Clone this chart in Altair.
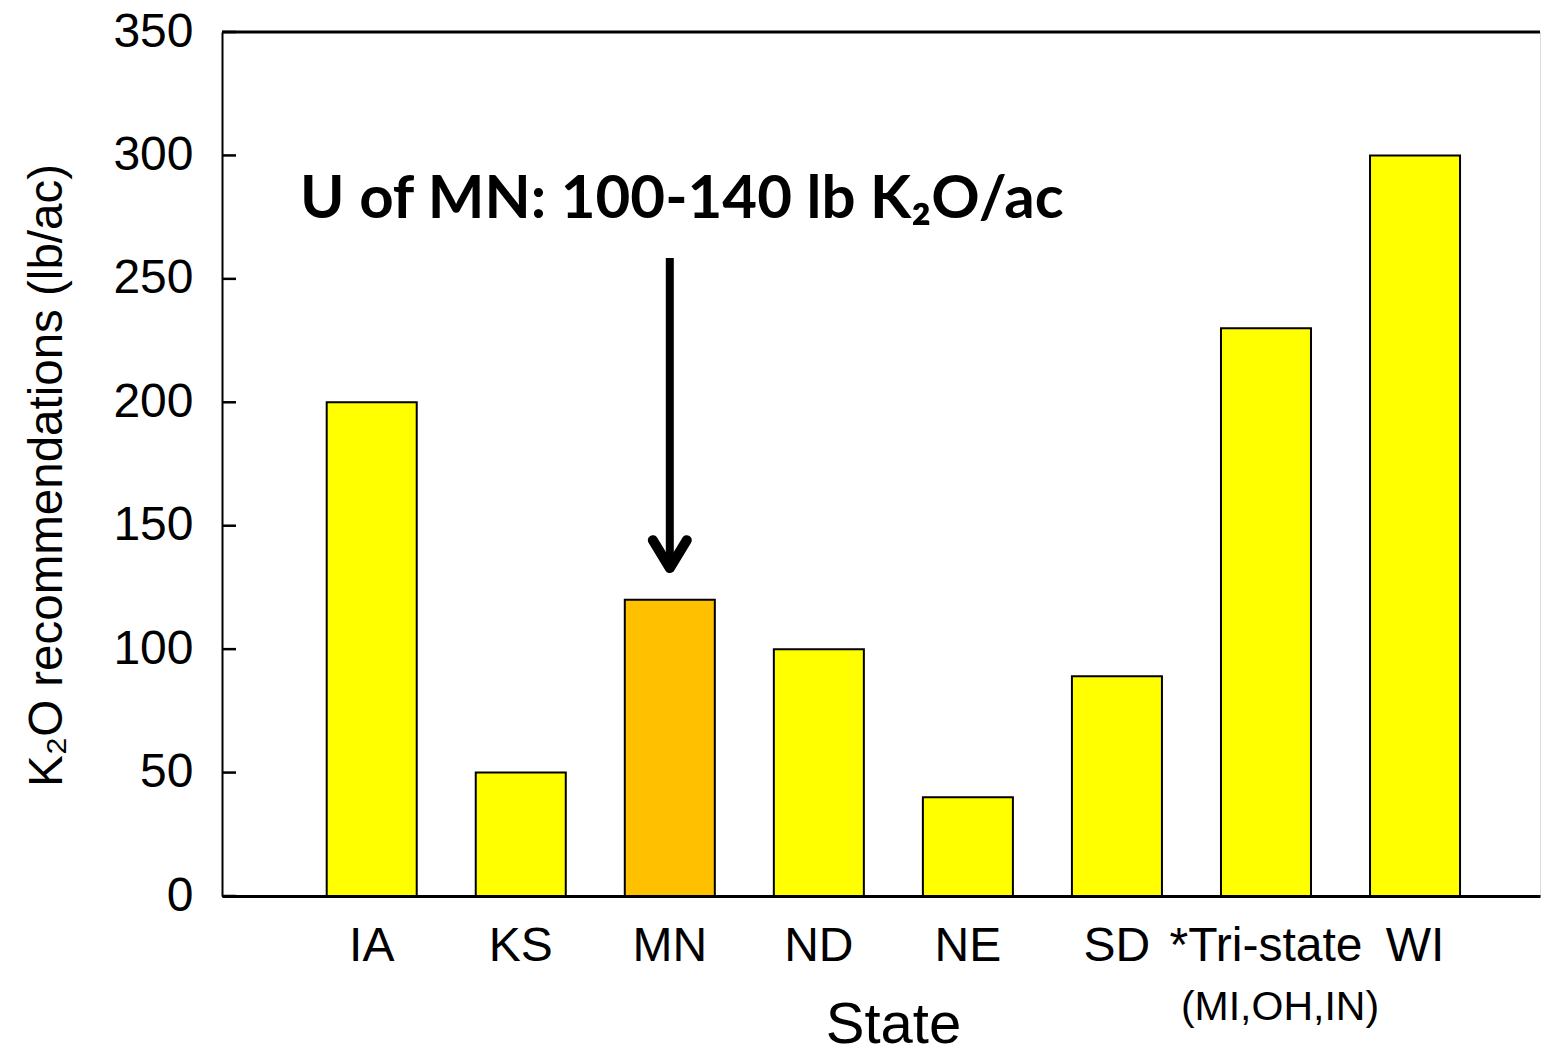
import altair as alt
import pandas as pd

# ---- data ----
states = ["IA", "KS", "MN", "ND", "NE", "SD", "*Tri-state", "WI"]
k2o = [200, 50, 120, 100, 40, 89, 230, 300]
bar_colors = ["#FFFF00", "#FFFF00", "#FFC000", "#FFFF00", "#FFFF00", "#FFFF00", "#FFFF00", "#FFFF00"]
sublabels = ["", "", "", "", "", "", "(MI,OH,IN)", ""]
y_ticks = [0, 50, 100, 150, 200, 250, 300, 350]
annotation = "U of MN: 100-140 lb K\u2082O/ac"
y_title = "K\u2082O recommendations (lb/ac)"
x_title = "State"

# annotation arrow (data units)
arrow_state = "MN"
arrow_top = 258.4
arrow_bottom = 133.6
arrow_head = 138.5

W, H = 1318, 864
FONT = "Liberation Sans"

df = pd.DataFrame({"state": states, "k2o": k2o, "color": bar_colors, "sub": sublabels})

xscale = alt.Scale(domain=states, paddingInner=0.396, paddingOuter=0.6195, align=0.567, round=False)
yscale = alt.Scale(domain=[0, 350], nice=False, zero=True)

base = alt.Chart(df)

bars = base.mark_bar(stroke="black", strokeWidth=2).encode(
    x=alt.X("state:N", scale=xscale, sort=None,
            axis=alt.Axis(title=x_title, titleFontSize=58, titleFont=FONT, titleFontWeight="normal",
                          titleColor="black", titleX=671, titleY=146, titleBaseline="alphabetic",
                          titleAlign="center", titleAnchor="start",
                          labelFontSize=48, labelFont=FONT, labelColor="black", labelAngle=0,
                          labelBaseline="alphabetic", labelPadding=64, labelLimit=0,
                          ticks=False, tickSize=0,
                          domainColor="black", domainWidth=3, grid=False)),
    y=alt.Y("k2o:Q", scale=yscale,
            axis=alt.Axis(title=y_title, titleFontSize=47.5, titleFont=FONT, titleFontWeight="normal",
                          titleColor="black", titleAngle=270, titleX=-161, titleY=443,
                          titleBaseline="alphabetic", titleAlign="center", titleAnchor="start",
                          values=y_ticks, labelFontSize=48, labelFont=FONT, labelColor="black",
                          labelPadding=29, ticks=False, tickSize=0,
                          domainColor="black", domainWidth=2, grid=False)),
    fill=alt.Color("color:N", scale=None),
)

tick_df = pd.DataFrame({"v": y_ticks})
inner_ticks = alt.Chart(tick_df).mark_rule(color="black", strokeWidth=2.5).encode(
    y=alt.Y("v:Q", scale=yscale), x=alt.value(0), x2=alt.value(14)
)

top_line = alt.Chart(pd.DataFrame({"v": [350]})).mark_rule(color="black", strokeWidth=3).encode(
    y=alt.Y("v:Q", scale=yscale), x=alt.value(0), x2=alt.value(W)
)

sub_text = base.transform_filter("datum.sub != ''").mark_text(
    fontSize=41, font=FONT, color="black", baseline="alphabetic", dx=14
).encode(x=alt.X("state:N", scale=xscale), y=alt.value(988), text="sub:N")

arrow_df = pd.DataFrame({"state": [arrow_state], "top": [arrow_top], "bottom": [arrow_bottom], "head": [arrow_head]})
shaft = alt.Chart(arrow_df).mark_rule(color="black", strokeWidth=8).encode(
    x=alt.X("state:N", scale=xscale),
    y=alt.Y("top:Q", scale=yscale),
    y2="bottom:Q",
)
head = alt.Chart(arrow_df).mark_point(
    shape="M -1 -0.82 L 0 0.82 L 1 -0.82", filled=False, stroke="black", strokeWidth=10,
    strokeCap="round", strokeJoin="round", size=1156, opacity=1
).encode(x=alt.X("state:N", scale=xscale), y=alt.Y("head:Q", scale=yscale))

annot = alt.Chart(pd.DataFrame({"t": [annotation]})).mark_text(
    font="Lato", fontWeight="bold", fontSize=60, align="left", baseline="alphabetic", color="black"
).encode(x=alt.value(78), y=alt.value(186), text="t:N")

chart = alt.layer(bars, inner_ticks, top_line, sub_text, shaft, head, annot).properties(
    width=W, height=H,
    autosize=alt.AutoSizeParams(type="none"),
    padding={"left": 214, "top": 24, "right": 2, "bottom": 149},
).configure_view(strokeWidth=0).configure(font=FONT)

chart.save("out.html", embed_options={"renderer": "svg", "actions": False})
